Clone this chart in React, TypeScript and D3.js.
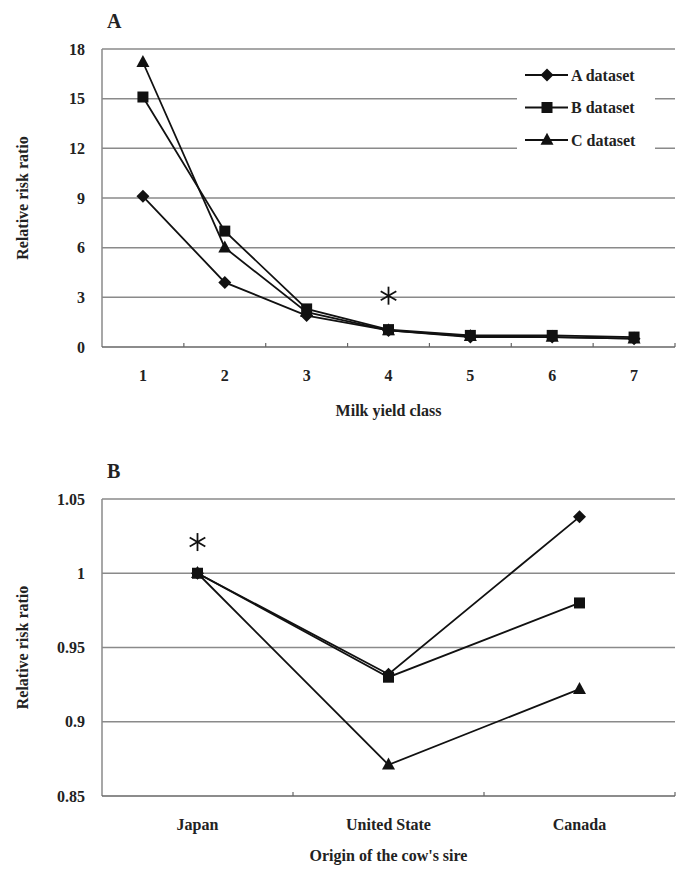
import React from "react";
import * as d3 from "d3";

const milkClasses = ["1", "2", "3", "4", "5", "6", "7"];
const milkA = [9.1, 3.9, 1.9, 1.0, 0.6, 0.6, 0.5];
const milkB = [15.1, 7.0, 2.3, 1.05, 0.7, 0.7, 0.6];
const milkC = [17.2, 6.0, 2.1, 1.0, 0.65, 0.6, 0.5];
const milkTicks = [0, 3, 6, 9, 12, 15, 18];
const milkStarClass = "4";
const milkStarValue = 3.1;

const origins = ["Japan", "United State", "Canada"];
const originA = [1.0, 0.932, 1.038];
const originB = [1.0, 0.930, 0.980];
const originC = [1.0, 0.871, 0.922];
const originTicks = [0.85, 0.9, 0.95, 1, 1.05];
const originStarCat = "Japan";
const originStarValue = 1.021;

const seriesNames = ["A dataset", "B dataset", "C dataset"];
const seriesShapes = ["diamond", "square", "triangle"];

const FONT = "Liberation Serif, Times New Roman, serif";
const GRID = "#8a8a8a";
const INK = "#111";

const txt = (size: number) => ({ fontFamily: FONT, fontWeight: 700, fontSize: size, fill: "#222" } as React.CSSProperties);

function Marker({ shape, x, y }: { shape: string; x: number; y: number }) {
  if (shape === "diamond") {
    const r = 6.5;
    return <path d={`M${x},${y - r}L${x + r},${y}L${x},${y + r}L${x - r},${y}Z`} fill={INK} />;
  }
  if (shape === "square") {
    const s = 11;
    return <rect x={x - s / 2} y={y - s / 2} width={s} height={s} fill={INK} />;
  }
  const w = 13, h = 12;
  return <path d={`M${x},${y - h * 0.6}L${x + w / 2},${y + h * 0.4}L${x - w / 2},${y + h * 0.4}Z`} fill={INK} />;
}

function Star({ x, y }: { x: number; y: number }) {
  const r = 9;
  const spokes = [90, 30, -30];
  return (
    <g stroke={INK} strokeWidth={1.8}>
      {spokes.map((a) => {
        const dx = r * Math.cos((a * Math.PI) / 180);
        const dy = r * Math.sin((a * Math.PI) / 180);
        return <line key={a} x1={x - dx} y1={y - dy} x2={x + dx} y2={y + dy} />;
      })}
    </g>
  );
}

function Panel({
  letter, cats, series, ticks, yDomain, top, bottom, xLabel, xLabelDy, starCat, starVal, legend,
}: any) {
  const left = 102, right = 675;
  const x = d3.scaleBand().domain(cats).range([left, right]);
  const y = d3.scaleLinear().domain(yDomain).range([bottom, top]);
  const cx = (c: string) => (x(c) as number) + x.bandwidth() / 2;
  const line = d3.line<number>().x((_, i) => cx(cats[i])).y((v) => y(v));
  const order = [0, 2, 1];
  return (
    <g>
      <text x={107} y={top - 21} style={txt(20)}>{letter}</text>
      {ticks.map((t: number) => (
        <g key={t}>
          {t !== yDomain[0] && (
            <line x1={left} x2={right} y1={y(t)} y2={y(t)} stroke={GRID} strokeWidth={1.5} />
          )}
          <text x={85} y={y(t)} dy="0.35em" textAnchor="end" style={txt(16)}>
            {String(t)}
          </text>
        </g>
      ))}
      <line x1={left} x2={left} y1={top} y2={bottom} stroke={GRID} strokeWidth={1.5} />
      <line x1={left} x2={right} y1={bottom} y2={bottom} stroke="#666" strokeWidth={1.5} />
      {cats.map((c: string) => (
        <line key={c} x1={(x(c) as number) + x.bandwidth()} x2={(x(c) as number) + x.bandwidth()} y1={bottom} y2={bottom - 4} stroke="#666" strokeWidth={1.2} />
      ))}
      {cats.map((c: string) => (
        <text key={c} x={cx(c)} y={bottom + 34} textAnchor="middle" style={txt(16)}>{c}</text>
      ))}
      <text x={(left + right) / 2} y={bottom + xLabelDy} textAnchor="middle" style={txt(16)}>{xLabel}</text>
      <text transform={`translate(28,${(top + bottom) / 2}) rotate(-90)`} textAnchor="middle" style={txt(16)}>Relative risk ratio</text>
      {order.map((si) => (
        <path key={si} d={line(series[si]) as string} fill="none" stroke={INK} strokeWidth={1.8} />
      ))}
      {order.map((si) =>
        series[si].map((v: number, i: number) => (
          <Marker key={si + "-" + i} shape={seriesShapes[si]} x={cx(cats[i])} y={y(v)} />
        ))
      )}
      <Star x={cx(starCat)} y={y(starVal)} />
      {legend && (
        <g>
          <rect x={517} y={58} width={138} height={96} fill="white" />
          {seriesNames.map((n, i) => {
            const ly = 75 + i * 32.5;
            return (
              <g key={n}>
                <line x1={525} x2={568} y1={ly} y2={ly} stroke={INK} strokeWidth={1.8} />
                <Marker shape={seriesShapes[i]} x={547} y={ly} />
                <text x={571} y={ly} dy="0.35em" style={txt(16)}>{n}</text>
              </g>
            );
          })}
        </g>
      )}
    </g>
  );
}

export default function App() {
  return (
    <svg width={679} height={869} style={{ position: "absolute", left: 0, top: 0, background: "white" }}>
      <rect width={679} height={869} fill="white" />
      <Panel
        letter="A" cats={milkClasses} series={[milkA, milkB, milkC]} ticks={milkTicks}
        yDomain={[0, 18]} top={49} bottom={347} xLabel="Milk yield class" xLabelDy={69}
        starCat={milkStarClass} starVal={milkStarValue} legend={true}
      />
      <Panel
        letter="B" cats={origins} series={[originA, originB, originC]} ticks={originTicks}
        yDomain={[0.85, 1.05]} top={499} bottom={796} xLabel="Origin of the cow's sire" xLabelDy={65}
        starCat={originStarCat} starVal={originStarValue} legend={false}
      />
    </svg>
  );
}
